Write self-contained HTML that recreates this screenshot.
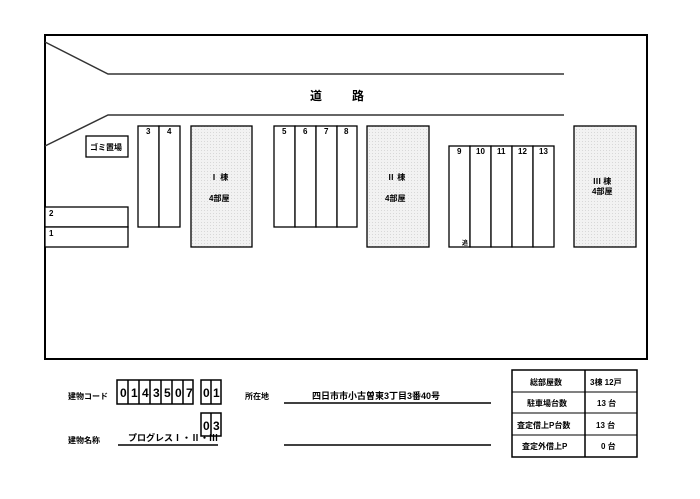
<!DOCTYPE html>
<html><head><meta charset="utf-8"><style>
body{margin:0;background:#fff;width:700px;height:494px;overflow:hidden}
svg text{font-family:"Liberation Sans","Noto Sans CJK JP",sans-serif;fill:#000;font-weight:bold}
</style></head><body>
<svg width="700" height="494" viewBox="0 0 700 494" xmlns="http://www.w3.org/2000/svg">
<defs><pattern id="d" width="3" height="3" patternUnits="userSpaceOnUse"><rect width="3" height="3" fill="#f2f2f2"/><rect width="1" height="1" fill="#d8d8d8"/></pattern></defs>
<rect x="45" y="35" width="602" height="324" fill="none" stroke="#000" stroke-width="2"/>
<g stroke="#333" stroke-width="1.5" fill="none">
<polyline points="45,42 108,74 564,74"/>
<polyline points="45,146 108,115 564,115"/>
</g>
<text x="310" y="100" font-size="12">道</text><text x="352" y="100" font-size="12">路</text>
<g stroke="#000" stroke-width="1.3">
<rect x="191" y="126" width="61" height="121" fill="url(#d)"/>
<rect x="367" y="126" width="62" height="121" fill="url(#d)"/>
<rect x="574" y="126" width="62" height="121" fill="url(#d)"/>
<rect x="86" y="136" width="42" height="21" fill="#fff"/>
<rect x="45" y="207" width="83" height="20" fill="#fff"/>
<rect x="45" y="227" width="83" height="20" fill="#fff"/>
<rect x="138" y="126" width="21" height="101" fill="#fff"/><rect x="159" y="126" width="21" height="101" fill="#fff"/>
<rect x="274" y="126" width="21" height="101" fill="#fff"/><rect x="295" y="126" width="21" height="101" fill="#fff"/>
<rect x="316" y="126" width="21" height="101" fill="#fff"/><rect x="337" y="126" width="20" height="101" fill="#fff"/>
<rect x="449" y="146" width="21" height="101" fill="#fff"/><rect x="470" y="146" width="21" height="101" fill="#fff"/>
<rect x="491" y="146" width="21" height="101" fill="#fff"/><rect x="512" y="146" width="21" height="101" fill="#fff"/>
<rect x="533" y="146" width="21" height="101" fill="#fff"/>
</g>
<g font-size="8">
<text x="90" y="150">ゴミ置場</text>
<text x="49" y="216">2</text><text x="49" y="236">1</text>
<text x="146" y="134">3</text><text x="167" y="134">4</text>
<text x="282" y="134">5</text><text x="303" y="134">6</text><text x="324" y="134">7</text><text x="344" y="134">8</text>
<text x="457" y="154">9</text><text x="476" y="154">10</text><text x="497" y="154">11</text><text x="518" y="154">12</text><text x="539" y="154">13</text>
<text x="462" y="245" font-size="6">追</text>
<text x="210" y="180">Ⅰ 棟</text><text x="209" y="201">4部屋</text>
<text x="387" y="180">Ⅱ 棟</text><text x="385" y="201">4部屋</text>
<text x="593" y="184">Ⅲ 棟</text><text x="592" y="194">4部屋</text>
<text x="68" y="399">建物コード</text><text x="68" y="443">建物名称</text>
<text x="245" y="399">所在地</text>
<text x="312" y="399" font-size="9">四日市市小古曽東3丁目3番40号</text>
<text x="128" y="441" font-size="9">プログレスⅠ・Ⅱ・Ⅲ</text>
</g>
<g stroke="#000" stroke-width="1.5" fill="none">
<rect x="117" y="380" width="76" height="24"/><rect x="201" y="380" width="20" height="24"/><rect x="201" y="413" width="20" height="23"/>
<line x1="128" y1="380" x2="128" y2="404"/><line x1="139" y1="380" x2="139" y2="404"/><line x1="150" y1="380" x2="150" y2="404"/><line x1="161" y1="380" x2="161" y2="404"/><line x1="172" y1="380" x2="172" y2="404"/><line x1="183" y1="380" x2="183" y2="404"/>
<line x1="211" y1="380" x2="211" y2="404"/><line x1="211" y1="413" x2="211" y2="436"/>
<line x1="118" y1="445" x2="218" y2="445"/>
<line x1="284" y1="403" x2="491" y2="403"/><line x1="284" y1="445" x2="491" y2="445"/>
<rect x="512" y="370" width="125" height="87"/>
<line x1="585" y1="370" x2="585" y2="457"/>
<line x1="512" y1="392" x2="637" y2="392" stroke-width="1"/><line x1="512" y1="413" x2="637" y2="413" stroke-width="1"/><line x1="512" y1="435" x2="637" y2="435" stroke-width="1"/>
</g>
<g font-size="12">
<text x="120" y="397">0</text><text x="131" y="397">1</text><text x="142" y="397">4</text><text x="153" y="397">3</text><text x="164" y="397">5</text><text x="175" y="397">0</text><text x="186" y="397">7</text>
<text x="203" y="397">0</text><text x="213" y="397">1</text><text x="203" y="430">0</text><text x="213" y="430">3</text>
</g>
<g font-size="8">
<text x="530" y="385">総部屋数</text><text x="590" y="385">3棟 12戸</text>
<text x="527" y="406">駐車場台数</text><text x="597" y="406">13 台</text>
<text x="517" y="428">査定借上P台数</text><text x="596" y="428">13 台</text>
<text x="522" y="449">査定外借上P</text><text x="601" y="449">0 台</text>
</g>
</svg>
</body></html>
